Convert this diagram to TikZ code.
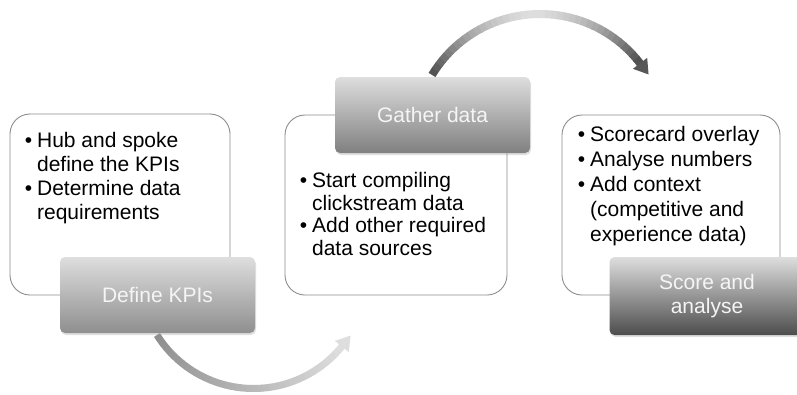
\documentclass[tikz,border=0pt]{standalone}
\usepackage{fontspec}
\setmainfont{Liberation Sans}
\usetikzlibrary{calc,shadows}

\tikzset{
  notebox/.style={draw=black!45, line width=0.9pt, rounded corners=20pt, fill=white, inner sep=0pt},
  notetext/.style={anchor=north west, inner sep=0pt},
  stepbox/.style={rounded corners=5pt, top color=black!13, minimum width=195pt, minimum height=76pt,
    inner sep=0pt, align=center, text=white!96!black, font=\fontsize{21}{24}\selectfont,
    drop shadow={shadow xshift=1pt, shadow yshift=-2pt, opacity=0.25}},
}

\begin{document}
\begin{tikzpicture}[x=1pt, y=1pt]
  \useasboundingbox (0,0) rectangle (797,-394);

  % boxes with the notes
  \node[notebox, minimum width=220pt, minimum height=181pt] (kpibox) at (120,-204.5) {};
  \node[notebox, minimum width=222pt, minimum height=180pt] (databox) at (396,-205) {};
  \node[notebox, minimum width=218pt, minimum height=180pt] (scorebox) at (671,-205) {};

  \node[notetext, font=\fontsize{21}{24}\selectfont] (kpitext) at ($(kpibox.north west)+(15,-17)$) {%
    \begin{tabular}{@{}l@{\hspace{5pt}}l@{}}
      \textbullet & Hub and spoke\\
                  & define the KPIs\\
      \textbullet & Determine data\\
                  & requirements
    \end{tabular}};
  \node[notetext, font=\fontsize{21}{22.5}\selectfont] (datatext) at ($(databox.north west)+(15,-57)$) {%
    \begin{tabular}{@{}l@{\hspace{5pt}}l@{}}
      \textbullet & Start compiling\\
                  & clickstream data\\
      \textbullet & Add other required\\
                  & data sources
    \end{tabular}};
  \node[notetext, font=\fontsize{21}{25}\selectfont] (scoretext) at ($(scorebox.north west)+(16,-9.5)$) {%
    \begin{tabular}{@{}l@{\hspace{5pt}}l@{}}
      \textbullet & Scorecard overlay\\
      \textbullet & Analyse numbers\\
      \textbullet & Add context\\
                  & (competitive and\\
                  & experience data)
    \end{tabular}};

  % the three steps
  \node[stepbox, bottom color=black!44] (kpi) at (157.5,-295) {Define KPIs};
  \node[stepbox, bottom color=black!50] (gather) at (432.5,-115) {Gather data};
  \node[stepbox, bottom color=black!70, minimum height=78pt] (score) at (707,-296) {Score and\\analyse};

  % curved arrows between the steps, shaded piece by piece
  \coordinate (topc) at (540,-140.1);
  \coordinate (botc) at (253.5,-274.7);

  \foreach \i in {0,...,39} {
    \pgfmathsetmacro\aa{148.9-\i*2.785}
    \pgfmathsetmacro\ab{\aa-3.1}
    \pgfmathsetmacro\tone{13+55*abs(2*\i/39-1)^1.6}
    \fill[black!\tone] ($(topc)+(\aa:130.1)$) arc[start angle=\aa, end angle=\ab, radius=130.1]
      -- ($(topc)+(\ab:122.1)$) arc[start angle=\ab, end angle=\aa, radius=122.1] -- cycle;
  }
  \fill[black!66] ($(topc)+(37.5:135.1)$) -- ($(topc)+(37.5:126.1)+(-52.5:14)$) -- ($(topc)+(37.5:117.1)$) -- cycle;

  \foreach \i in {0,...,39} {
    \pgfmathsetmacro\aa{212+\i*2.7225}
    \pgfmathsetmacro\ab{\aa+3.0}
    \pgfmathsetmacro\tone{44-31*\i/39}
    \fill[black!\tone] ($(botc)+(\aa:117.3)$) arc[start angle=\aa, end angle=\ab, radius=117.3]
      -- ($(botc)+(\ab:110.3)$) arc[start angle=\ab, end angle=\aa, radius=110.3] -- cycle;
  }
  \fill[black!13] ($(botc)+(320.9:122.8)$) -- ($(botc)+(320.9:113.8)+(50.9:14)$) -- ($(botc)+(320.9:104.8)$) -- cycle;
\end{tikzpicture}
\end{document}
